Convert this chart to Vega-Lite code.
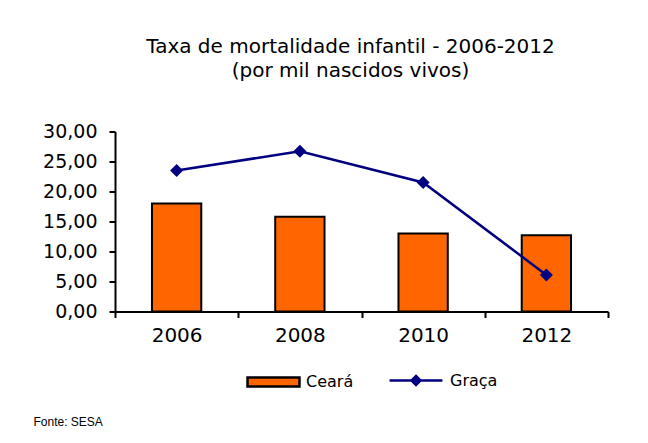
{
  "$schema": "https://vega.github.io/schema/vega-lite/v6.json",
  "width": 493,
  "height": 180,
  "autosize": {"type": "none"},
  "padding": {"left": 115, "top": 131.5, "right": 40, "bottom": 131.5},
  "background": "white",
  "title": {
    "text": ["Taxa de mortalidade infantil - 2006-2012", "(por mil nascidos vivos)"],
    "font": "DejaVu Sans",
    "fontSize": 20,
    "fontWeight": "normal",
    "color": "black",
    "anchor": "middle",
    "frame": "group",
    "baseline": "alphabetic",
    "lineHeight": 23.5,
    "dx": -11,
    "offset": 26
  },
  "data": {
    "values": [
      {"ano": "2006", "serie": "Ceará", "valor": 18.0},
      {"ano": "2008", "serie": "Ceará", "valor": 15.8},
      {"ano": "2010", "serie": "Ceará", "valor": 13.0},
      {"ano": "2012", "serie": "Ceará", "valor": 12.7},
      {"ano": "2006", "serie": "Graça", "valor": 23.5},
      {"ano": "2008", "serie": "Graça", "valor": 26.7},
      {"ano": "2010", "serie": "Graça", "valor": 21.5},
      {"ano": "2012", "serie": "Graça", "valor": 6.1}
    ]
  },
  "encoding": {
    "x": {
      "field": "ano",
      "type": "ordinal",
      "scale": {"paddingInner": 0, "paddingOuter": 0},
      "axis": {
        "title": "Fonte: SESA",
        "titleX": -82,
        "titleY": 110,
        "titleAlign": "left",
        "titleBaseline": "middle",
        "titleAnchor": "start",
        "titleFont": "Liberation Sans",
        "titleFontSize": 12,
        "titleFontWeight": "normal",
        "titleColor": "black",
        "labelAngle": 0,
        "labelFont": "DejaVu Sans",
        "labelFontSize": 20,
        "labelColor": "black",
        "labelPadding": 8,
        "tickBand": "extent",
        "tickSize": 6,
        "tickWidth": 2,
        "tickColor": "black",
        "domainColor": "black",
        "domainWidth": 2
      }
    },
    "y": {
      "field": "valor",
      "type": "quantitative",
      "scale": {"domain": [0, 30], "nice": false},
      "axis": {
        "title": null,
        "values": [0, 5, 10, 15, 20, 25, 30],
        "labelExpr": "replace(format(datum.value, '.2f'), '.', ',')",
        "labelFont": "DejaVu Sans",
        "labelFontSize": 19,
        "labelColor": "black",
        "labelPadding": 12,
        "grid": false,
        "tickSize": 6,
        "tickWidth": 2,
        "tickColor": "black",
        "domainColor": "black",
        "domainWidth": 2
      }
    }
  },
  "layer": [
    {
      "transform": [{"filter": "datum.serie === 'Ceará'"}],
      "mark": {"type": "bar", "width": {"band": 0.4}, "stroke": "black", "strokeWidth": 2},
      "encoding": {
        "color": {
          "field": "serie",
          "type": "nominal",
          "scale": {"domain": ["Ceará"], "range": ["#FF6600"]},
          "legend": {
            "title": null,
            "orient": "none",
            "legendX": 131,
            "legendY": 223,
            "padding": 0,
            "symbolType": "M-1,-0.17H1V0.17H-1Z",
            "symbolSize": 2700,
            "symbolStrokeColor": "black",
            "symbolStrokeWidth": 2.5,
            "symbolFillColor": "#FF6600",
            "labelFont": "DejaVu Sans",
            "labelFontSize": 16,
            "labelColor": "black",
            "labelOffset": 5
          }
        }
      }
    },
    {
      "transform": [{"filter": "datum.serie === 'Graça'"}],
      "mark": {"type": "line", "strokeWidth": 2.5},
      "encoding": {
        "stroke": {
          "field": "serie",
          "type": "nominal",
          "scale": {"domain": ["Graça"], "range": ["#000080"]},
          "legend": {
            "title": null,
            "orient": "none",
            "legendX": 273,
            "legendY": 221,
            "padding": 0,
            "symbolType": "M-1,0H1M0,-0.17L0.17,0L0,0.17L-0.17,0Z",
            "symbolSize": 2800,
            "symbolStrokeColor": "#000080",
            "symbolStrokeWidth": 2.5,
            "symbolFillColor": "#000080",
            "labelFont": "DejaVu Sans",
            "labelFontSize": 16,
            "labelColor": "black",
            "labelOffset": 6,
            "encode": {"symbols": {"update": {"fill": {"value": "#000080"}, "stroke": {"value": "#000080"}, "strokeWidth": {"value": 2.5}}}}
          }
        }
      }
    },
    {
      "transform": [{"filter": "datum.serie === 'Graça'"}],
      "mark": {"type": "point", "shape": "diamond", "filled": true, "size": 170, "color": "#000080", "opacity": 1}
    }
  ],
  "config": {
    "view": {"stroke": null}
  }
}
